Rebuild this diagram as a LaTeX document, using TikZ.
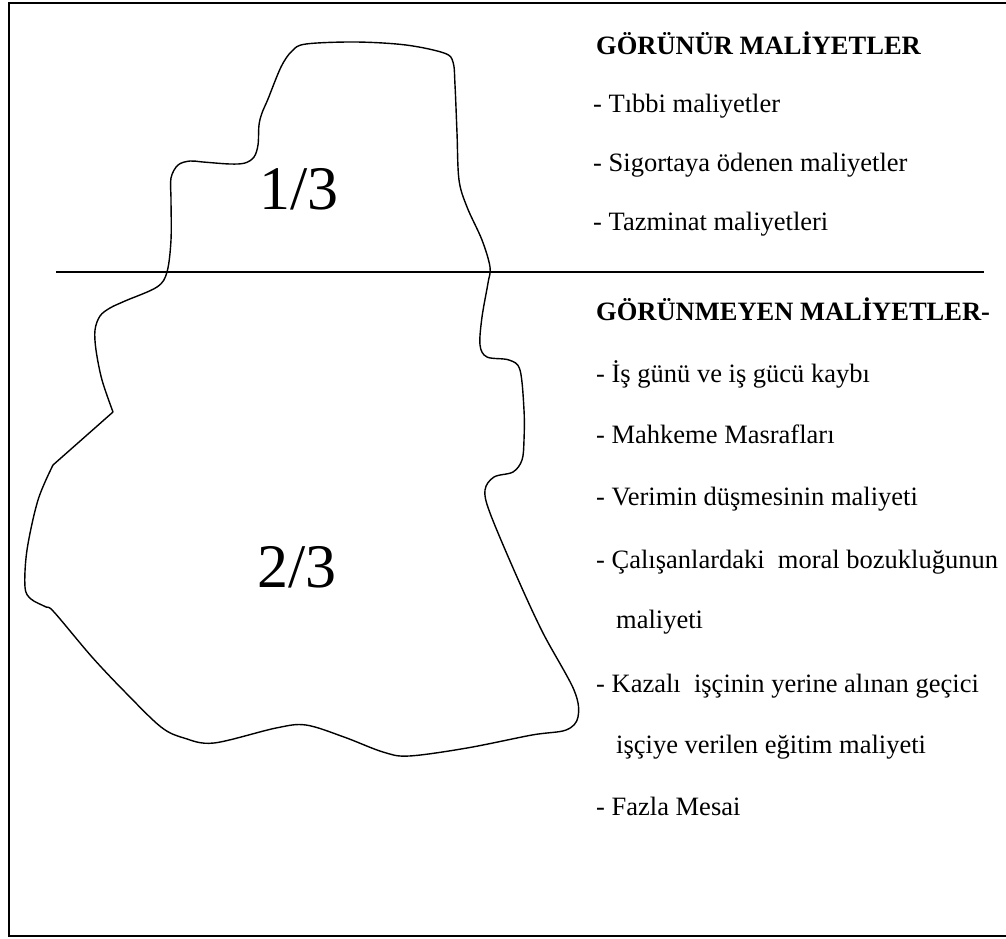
\documentclass[tikz,border=0pt]{standalone}
\usepackage{fontspec}
\setmainfont{Liberation Serif}[Ligatures=NoCommon]
\begin{document}
\begin{tikzpicture}[x=1pt,y=-1pt,
  outline/.style={line width=1.4pt, line join=round, line cap=round},
  item/.style={anchor=base west, inner sep=0pt, font=\fontsize{26.5}{30}\selectfont},
  head/.style={anchor=base west, inner sep=0pt, font=\fontsize{26.5}{30}\selectfont\bfseries},
  share/.style={anchor=base, inner sep=0pt, font=\fontsize{62}{70}\selectfont}]
\useasboundingbox (0,0) rectangle (1006,938);
\clip (0,0) rectangle (1006,938);

% outer frame (its right side runs off the page)
\draw[line width=2pt] (8.5,2.5) rectangle (1020,935.5);

% water line
\coordinate (wl) at (56,272);
\coordinate (wr) at (984,272);
\draw[line width=1.4pt] (wl) -- (wr);

% iceberg outline
\coordinate (notchA) at (113,412);
\coordinate (notchB) at (53,465);
\draw[outline] plot[smooth, tension=0.55] coordinates {
  (113,412) (102,380) (96,350) (95,330) (100,316) (110,308) (125,301)
  (157,287) (167,272) (171,240) (171,200) (171,178) (178,165) (190,161)
  (203,162) (230,164) (245,163) (254,157) (258,145) (259,125) (262,113)
  (268,99) (281,67) (292,51) (306,44) (356,42) (406,45) (444,53) (453,62)
  (455,85) (457,133) (459,180) (467,207) (482,240) (490,267) (488,283)
  (482,317) (480,345) (487,357) (509,360) (520,370) (524,410) (524,440)
  (522,460) (513,472) (494,477) (485,490) (490,513) (517,577) (543,633)
  (574,690) (578,717) (566,730) (532,735) (467,748) (409,756) (383,752)
  (344,737) (306,725) (276,728) (214,743) (184,738) (161,727) (126,693)
  (92,657) (54,612) (46,607) (31,599) (25,587) (27,550) (38,500) (53,465)
} -- (notchA);

% shares above and below the water line
\node[share] (above) at (299,209) {1/3};
\node[share] (below) at (297,587) {2/3};

% visible costs
\node[head] (vishead) at (596,54) {GÖRÜNÜR MALİYETLER};
\node[item] (v1) at (593,112) {- Tıbbi maliyetler};
\node[item] (v2) at (593,171) {- Sigortaya ödenen maliyetler};
\node[item] (v3) at (593,230) {- Tazminat maliyetleri};

% hidden costs
\node[head] (hidhead) at (596,320) {GÖRÜNMEYEN MALİYETLER-};
\node[item] (h1) at (596,382) {- İş günü ve iş gücü kaybı};
\node[item] (h2) at (596,443) {- Mahkeme Masrafları};
\node[item] (h3) at (596,505) {- Verimin düşmesinin maliyeti};
\node[item] (h4) at (596,568) {- Çalışanlardaki\ \ moral bozukluğunun};
\node[item] (h4b) at (616,628) {maliyeti};
\node[item] (h5) at (596,692) {- Kazalı\ \ işçinin yerine alınan geçici};
\node[item] (h5b) at (616,753) {işçiye verilen eğitim maliyeti};
\node[item] (h6) at (596,815) {- Fazla Mesai};
\end{tikzpicture}
\end{document}
